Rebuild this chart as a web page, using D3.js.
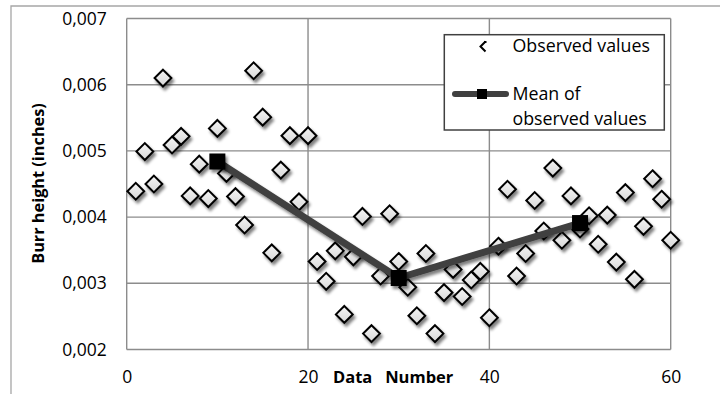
<!DOCTYPE html>
<html><head><meta charset="utf-8">
<script src="https://cdn.jsdelivr.net/npm/d3@7/dist/d3.min.js"></script>
<style>
html,body{margin:0;padding:0;background:#fff;}
svg{display:block;font-family:"Open Sans","Noto Sans",sans-serif;}
</style></head>
<body><svg id="c" width="720" height="394"></svg>
<script>
const dataNumbers = d3.range(1, 61);
const observedValues = [
  0.00439,0.00499,0.00450,0.00610,0.00509,0.00522,0.00432,0.00480,0.00428,0.00534,
  0.00466,0.00431,0.00388,0.00621,0.00551,0.00346,0.00471,0.00523,0.00423,0.00523,
  0.00333,0.00303,0.00349,0.00253,0.00340,0.00401,0.00224,0.00311,0.00405,0.00333,
  0.00294,0.00251,0.00345,0.00224,0.00286,0.00321,0.00280,0.00305,0.00318,0.00248,
  0.00356,0.00442,0.00311,0.00345,0.00425,0.00379,0.00474,0.00365,0.00432,0.00382,
  0.00402,0.00359,0.00403,0.00332,0.00437,0.00306,0.00386,0.00458,0.00427,0.00365
];
const meanX = [10, 30, 50];
const meanValues = [0.00484, 0.00308, 0.00391];
const xTicks = [0, 20, 40, 60];
const yTicks = [0.002, 0.003, 0.004, 0.005, 0.006, 0.007];
const legendLabels = ["Observed values", ["Mean of", "observed values"]];

const svg = d3.select("#c");
const L = 126.7, R = 670.7, T = 18.5, B = 349.5;
const x = d3.scaleLinear().domain([0, 60]).range([L, R]);
const y = d3.scaleLinear().domain([0.002, 0.007]).range([B, T]);

const defs = svg.append("defs");
const sh = defs.append("filter").attr("id","sh").attr("x","-50%").attr("y","-50%").attr("width","200%").attr("height","200%");
sh.append("feGaussianBlur").attr("in","SourceAlpha").attr("stdDeviation",1.8).attr("result","b");
sh.append("feOffset").attr("in","b").attr("dx",2).attr("dy",3).attr("result","o");
sh.append("feComponentTransfer").attr("in","o").attr("result","o2")
  .append("feFuncA").attr("type","linear").attr("slope",0.5);
const m = sh.append("feMerge");
m.append("feMergeNode").attr("in","o2");
m.append("feMergeNode").attr("in","SourceGraphic");
const gr = defs.append("linearGradient").attr("id","dg").attr("x1",0).attr("y1",0).attr("x2",0).attr("y2",1);
gr.append("stop").attr("offset","0").attr("stop-color","#f4f4f4");
gr.append("stop").attr("offset","1").attr("stop-color","#d8d8d8");

// outer chart frame
svg.append("path").attr("d","M11,400 L11,6 L730,6").attr("fill","none").attr("stroke","#a6a6a6").attr("stroke-width",1.3);

// gridlines
const grid = svg.append("g").attr("stroke","#8c8c8c").attr("stroke-width",1.4);
grid.selectAll("line.h").data(yTicks).join("line")
  .attr("x1",L).attr("x2",R).attr("y1",d=>y(d)).attr("y2",d=>y(d));
grid.selectAll("line.v").data(xTicks).join("line")
  .attr("x1",d=>x(d)).attr("x2",d=>x(d)).attr("y1",T).attr("y2",B);

// axes labels via d3 axes (no lines)
const yAxis = svg.append("g").attr("transform",`translate(${L},0)`)
  .call(d3.axisLeft(y).tickValues(yTicks).tickSize(0).tickPadding(20)
    .tickFormat(d=>d3.format(".3f")(d).replace(".",",")));
yAxis.select(".domain").remove();
yAxis.selectAll("text").attr("font-size",17.5).attr("fill","#000").attr("font-family","'Open Sans',sans-serif");

const xAxis = svg.append("g").attr("transform",`translate(0,${B})`)
  .call(d3.axisBottom(x).tickValues(xTicks).tickSize(0).tickPadding(21));
xAxis.select(".domain").remove();
xAxis.selectAll("text").attr("font-size",17.5).attr("fill","#000").attr("font-family","'Open Sans',sans-serif");

// axis titles
svg.append("text").attr("transform","translate(44,183.5) rotate(-90)")
  .attr("text-anchor","middle").attr("font-weight","bold").attr("font-size",16.3)
  .text("Burr height (inches)");
svg.append("text").attr("x",333).attr("y",383).attr("font-weight","bold").attr("font-size",16.5)
  .style("white-space","pre").text("Data   Number");

// diamonds
const ds = 8.4;
const diamond = `M0,${-ds} L${ds},0 L0,${ds} L${-ds},0 Z`;
svg.append("g").attr("filter","url(#sh)").selectAll("path").data(observedValues).join("path")
  .attr("transform",(d,i)=>`translate(${x(dataNumbers[i])},${y(d)})`)
  .attr("d",diamond).attr("fill","url(#dg)").attr("stroke","#000").attr("stroke-width",2);

// mean line
const line = d3.line().x((d,i)=>x(meanX[i])).y(d=>y(d));
svg.append("path").datum(meanValues).attr("d",line).attr("fill","none")
  .attr("stroke","#404040").attr("stroke-width",7).attr("filter","url(#sh)");
svg.append("g").attr("filter","url(#sh)").selectAll("rect").data(meanValues).join("rect")
  .attr("x",(d,i)=>x(meanX[i])-8).attr("y",d=>y(d)-8).attr("width",16).attr("height",16)
  .attr("fill","#000");

// legend
const lg = svg.append("g");
lg.append("rect").attr("x",444.3).attr("y",34.7).attr("width",220).attr("height",95.3)
  .attr("fill","#fff").attr("stroke","#404040").attr("stroke-width",1.5);
lg.append("path").attr("d","M485.5,41.5 L480.5,46.5 L485.5,51.5 M484,42 L486.5,42")
  .attr("fill","none").attr("stroke","#000").attr("stroke-width",2);
lg.append("text").attr("x",512.5).attr("y",52).attr("font-size",17.8).text(legendLabels[0]);
lg.append("line").attr("x1",455).attr("x2",506).attr("y1",94).attr("y2",94)
  .attr("stroke","#404040").attr("stroke-width",6).attr("stroke-linecap","round");
lg.append("rect").attr("x",477).attr("y",89).attr("width",10).attr("height",10).attr("fill","#000");
lg.append("text").attr("x",512.5).attr("y",100).attr("font-size",17.8).text(legendLabels[1][0]);
lg.append("text").attr("x",512.5).attr("y",125).attr("font-size",17.8).text(legendLabels[1][1]);
</script></body></html>
